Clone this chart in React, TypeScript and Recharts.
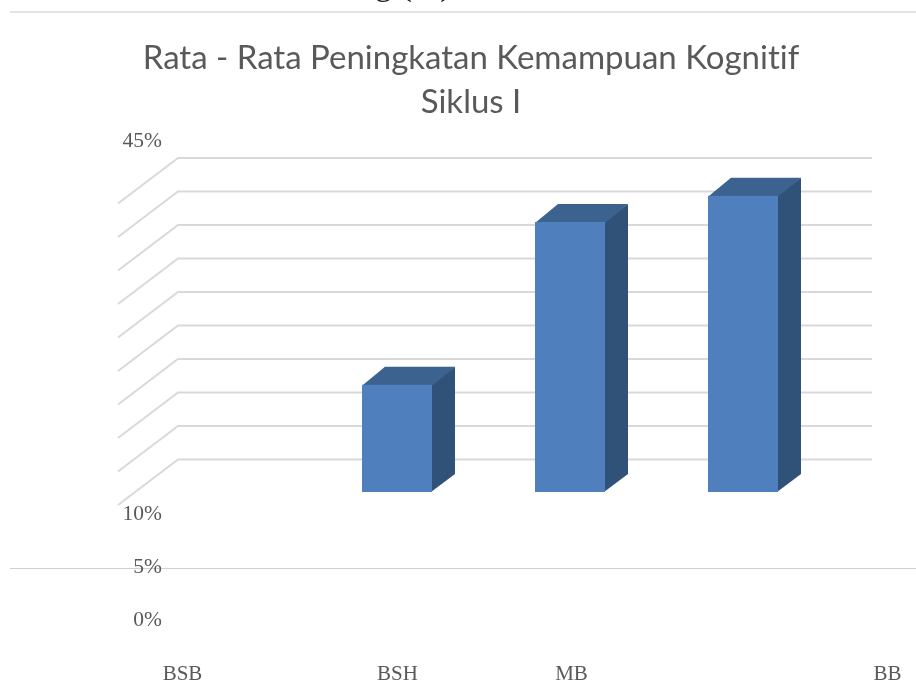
import { ComposedChart, Bar, Line, XAxis, YAxis, ReferenceLine } from 'recharts';

const categories = ['BSB', 'BSH', 'MB', 'BB'];
const averages = [0, 16, 40.3, 44.2];
const titleLines = ['Rata - Rata Peningkatan Kemampuan Kognitif', 'Siklus I'];
const yLabels = [0, 5, 10, 45];
const gridValues = [0, 5, 10, 15, 20, 25, 30, 35, 40, 45];

// the scanned labels sit off their bars, so each one is nudged sideways
const labelNudge = [-41, 1, 2, 145];

const data = categories.map((name, i) => ({ name, average: averages[i] }));

const FRONT = '#4f7fbc';
const TOP = '#3c6290';
const SIDE = '#305279';
const GRID = '#d9d9d9';
const TEXT = '#595959';
const SERIF = '"Liberation Serif", serif';

function Bar3D(props: any) {
  const { x, y, width, height } = props;
  if (!height || height <= 0) return null;
  const dx = 23;
  const dy = 18;
  // side and top start a pixel under the front face so no seam shows
  const right = x + width;
  return (
    <g>
      <polygon
        points={`${right - 1},${y} ${right + dx},${y - dy} ${right + dx},${y + height - dy} ${right - 1},${y + height}`}
        fill={SIDE}
      />
      <polygon
        points={`${x},${y + 1} ${x + dx},${y - dy} ${right + dx},${y - dy} ${right},${y + 1}`}
        fill={TOP}
      />
      <rect x={x} y={y} width={width} height={height} fill={FRONT} />
    </g>
  );
}

// floor and back wall: each gridline runs in from the left edge, then along the wall
function WallLine(props: any) {
  const { x1, x2, y1 } = props;
  const points = `${x1},${y1 + 13} ${x1 + 60},${y1 - 32.5} ${x2},${y1 - 32.5}`;
  return <polyline points={points} fill="none" stroke={GRID} strokeWidth={2} />;
}

function CategoryTick(props: any) {
  const { x, y, payload, index } = props;
  return (
    <text
      x={x + labelNudge[index]}
      y={y}
      textAnchor="middle"
      dominantBaseline="central"
      fontFamily={SERIF}
      fontSize={21}
      fill={TEXT}
    >
      {payload.value}
    </text>
  );
}

function PercentTick(props: any) {
  const { y, payload } = props;
  return (
    <text
      x={162}
      y={y}
      textAnchor="end"
      dominantBaseline="central"
      fontFamily={SERIF}
      fontSize={21.5}
      fill={TEXT}
    >
      {payload.value}%
    </text>
  );
}

export default function App() {
  return (
    <div
      style={{
        position: 'absolute',
        left: 0,
        top: 0,
        width: 916,
        height: 682,
        overflow: 'hidden',
        background: '#fff',
        filter: 'blur(0.5px)',
      }}
    >
      <div style={{ position: 'absolute', left: 358, top: -35, fontFamily: SERIF, fontSize: 34, color: '#222', whiteSpace: 'pre' }}>
        ng (%)
      </div>
      <div style={{ position: 'absolute', left: 10, right: 0, top: 11, height: 2, background: '#e4e4e4' }} />
      <div style={{ position: 'absolute', left: 10, right: 0, top: 568, height: 1, background: '#d0d0d0' }} />
      {titleLines.map((line, i) => (
        <div
          key={line}
          style={{
            position: 'absolute',
            left: 0,
            width: 942,
            top: 35 + i * 44,
            textAlign: 'center',
            fontFamily: 'Lato, sans-serif',
            fontSize: 33,
            lineHeight: '42px',
            color: TEXT,
            whiteSpace: 'pre',
            fontVariantLigatures: 'none',
          }}
        >
          {line}
        </div>
      ))}
      <ComposedChart
        width={916}
        height={682}
        data={data}
        barSize={70}
        margin={{ top: 140, right: 44, bottom: 0, left: 0 }}
        style={{ position: 'absolute', left: 0, top: 0 }}
      >
        <XAxis
          dataKey="name"
          interval={0}
          height={63}
          padding={{ left: 19, right: 43 }}
          axisLine={false}
          tickLine={false}
          tickMargin={48}
          tick={<CategoryTick />}
        />
        <YAxis
          yAxisId="labels"
          width={118}
          domain={[0, 45]}
          ticks={yLabels}
          interval={0}
          axisLine={false}
          tickLine={false}
          tick={<PercentTick />}
        />
        <YAxis yAxisId="bars" hide domain={[-18.96, 52.54]} allowDataOverflow />
        {gridValues.map((v) => (
          <ReferenceLine key={v} yAxisId="bars" y={v} shape={<WallLine />} zIndex={100} />
        ))}
        {/* invisible, only keeps the label axis alive */}
        <Line yAxisId="labels" dataKey="average" stroke="none" dot={false} legendType="none" isAnimationActive={false} />
        <Bar
          yAxisId="bars"
          dataKey="average"
          isAnimationActive={false}
          shape={<Bar3D />}
          zIndex={500}
        />
      </ComposedChart>
    </div>
  );
}
